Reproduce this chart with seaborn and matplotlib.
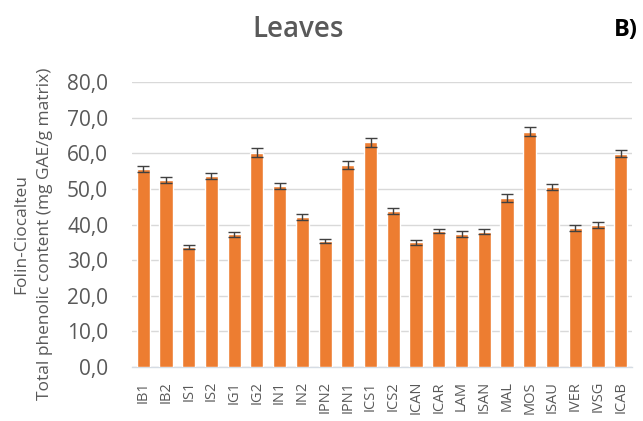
import matplotlib
matplotlib.use("Agg")
import matplotlib.pyplot as plt
import seaborn as sns
import pandas as pd

# Total phenolic content of leaf extracts (Folin-Ciocalteu assay)
samples = ["IB1", "IB2", "IS1", "IS2", "IG1", "IG2", "IN1", "IN2", "IPN2", "IPN1",
           "ICS1", "ICS2", "ICAN", "ICAR", "LAM", "ISAN", "MAL", "MOS", "ISAU",
           "IVER", "IVSG", "ICAB"]
means = [55.7, 52.6, 33.7, 53.6, 37.3, 60.2, 50.9, 42.1, 35.3, 56.7,
         63.1, 43.8, 35.0, 38.3, 37.3, 38.0, 47.4, 66.1, 50.6,
         39.0, 39.9, 59.9]
errors = [0.85, 0.85, 0.6, 0.85, 0.7, 1.25, 0.9, 0.85, 0.55, 1.2,
          1.2, 0.8, 0.65, 0.6, 0.9, 0.65, 1.1, 1.2, 0.85,
          0.85, 0.75, 1.0]
y_ticks = [0, 10, 20, 30, 40, 50, 60, 70, 80]
y_tick_labels = ["0,0", "10,0", "20,0", "30,0", "40,0", "50,0", "60,0", "70,0", "80,0"]

df = pd.DataFrame({"sample": samples, "tpc": means, "err": errors})

sns.set_theme(style="white")
plt.rcParams["font.family"] = ["Open Sans", "DejaVu Sans"]

grey = "#595959"
fig = plt.figure(figsize=(6.43, 4.21), dpi=100)
ax = fig.add_axes([0.205, 0.128, 0.778, 0.677])

sns.barplot(data=df, x="sample", y="tpc", color="#ED7D31", saturation=1,
            width=0.58, errorbar=None, ax=ax, zorder=3)
ax.errorbar(range(len(samples)), df["tpc"], yerr=df["err"], fmt="none",
            ecolor="#404040", elinewidth=1.0, capsize=4.5, capthick=1.0, zorder=4)

ax.set_ylim(0, 80)
ax.set_xlim(-0.5, len(samples) - 0.5)
ax.set_yticks(y_ticks)
ax.set_yticklabels(y_tick_labels)
ax.yaxis.grid(True, color="#D9D9D9", linewidth=1.0, zorder=0)
ax.set_axisbelow(True)
for side in ["top", "right", "left"]:
    ax.spines[side].set_visible(False)
ax.spines["bottom"].set_color("#D5DCE4")
ax.spines["bottom"].set_linewidth(1.0)

ax.tick_params(axis="y", length=0, labelsize=15, labelcolor=grey, pad=17)
ax.tick_params(axis="x", length=0, labelsize=10.5, labelcolor=grey, rotation=90, pad=10)
ax.set_xlabel("")
ax.set_ylabel("")

fig.text(0.033, 0.444, "Folin-Ciocalteu", rotation=90, ha="center", va="center",
         fontsize=12.5, color=grey)
fig.text(0.070, 0.444, "Total phenolic content (mg GAE/g matrix)", rotation=90,
         ha="center", va="center", fontsize=12.5, color=grey)

fig.text(0.464, 0.931, "Leaves", ha="center", va="center", fontsize=20,
         fontweight="semibold", color=grey)
fig.text(0.973, 0.929, "B)", ha="center", va="center", fontsize=17,
         fontweight="bold", color="black")

fig.savefig("out.png", dpi=100, facecolor="white")
